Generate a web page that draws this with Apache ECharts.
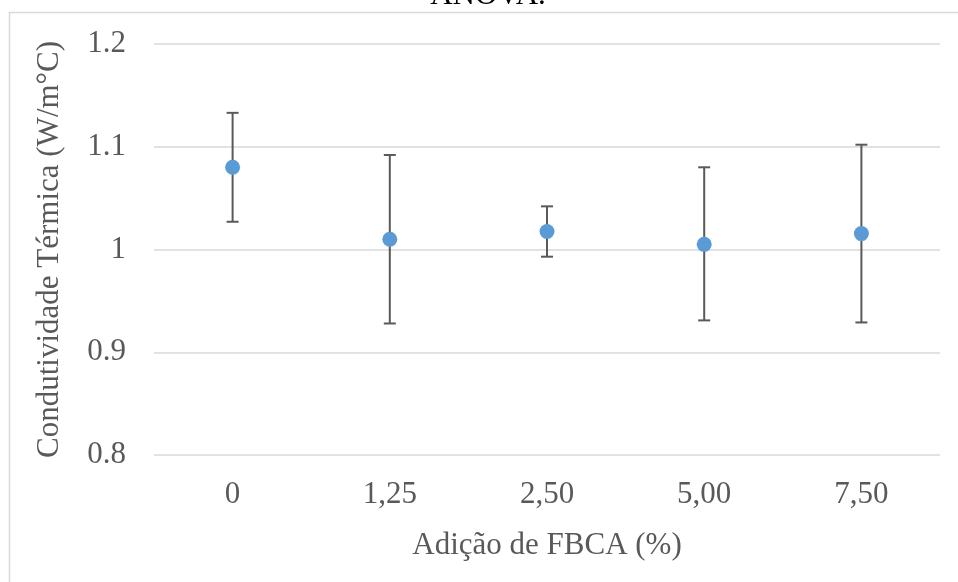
<!DOCTYPE html>
<html>
<head>
<meta charset="utf-8">
<script src="https://cdn.jsdelivr.net/npm/echarts@6/dist/echarts.min.js"></script>
<style>
html,body{margin:0;padding:0;background:#fff;}
#chart{width:958px;height:582px;}
</style>
</head>
<body>
<div id="chart"></div>
<script>
var categories = ['0', '1,25', '2,50', '5,00', '7,50'];
var means = [1.080, 1.010, 1.0175, 1.005, 1.0155];
var upper = [1.133, 1.092, 1.042, 1.080, 1.102];
var lower = [1.027, 0.928, 0.993, 0.931, 0.929];
var yTicks = {min: 0.8, max: 1.2, interval: 0.1};

var FONT = "'Liberation Serif', 'Times New Roman', serif";
var chart = echarts.init(document.getElementById('chart'), null, {renderer: 'canvas'});

var errData = categories.map(function (c, i) { return [i, lower[i], upper[i]]; });

chart.setOption({
  animation: false,
  backgroundColor: '#ffffff',
  graphic: [
    {
      type: 'rect',
      shape: {x: 9.5, y: 12.5, width: 1200, height: 1200},
      style: {fill: 'none', stroke: '#d9d9d9', lineWidth: 1.5},
      silent: true, z: -10
    },
    {
      type: 'text',
      x: 488, y: 11,
      style: {text: 'ANOVA.', font: '31px ' + FONT, fill: '#000000', textAlign: 'center', textVerticalAlign: 'bottom'},
      silent: true
    }
  ],
  grid: {left: 154, right: 18, top: 44, bottom: 127, containLabel: false},
  xAxis: {
    type: 'category',
    data: categories,
    boundaryGap: true,
    axisLine: {show: false},
    axisTick: {show: false},
    axisLabel: {color: '#595959', fontFamily: FONT, fontSize: 31, margin: 24},
    name: 'Adição de FBCA (%)',
    nameLocation: 'middle',
    nameGap: 75,
    nameTextStyle: {color: '#595959', fontFamily: FONT, fontSize: 31}
  },
  yAxis: {
    type: 'value',
    min: yTicks.min, max: yTicks.max, interval: yTicks.interval,
    axisLine: {show: false},
    axisTick: {show: false},
    splitLine: {show: true, lineStyle: {color: '#d9d9d9', width: 1.5}},
    axisLabel: {color: '#595959', fontFamily: FONT, fontSize: 31, margin: 28},
    name: 'Condutividade Térmica (W/m°C)',
    nameLocation: 'middle',
    nameGap: 89,
    nameTextStyle: {color: '#595959', fontFamily: FONT, fontSize: 31}
  },
  series: [
    {
      type: 'custom',
      data: errData,
      z: 1,
      renderItem: function (params, api) {
        var x = api.value(0);
        var lo = api.coord([x, api.value(1)]);
        var hi = api.coord([x, api.value(2)]);
        var hw = 6;
        var st = {stroke: '#595959', lineWidth: 2, fill: 'none'};
        return {
          type: 'group',
          children: [
            {type: 'line', shape: {x1: hi[0], y1: hi[1], x2: lo[0], y2: lo[1]}, style: st},
            {type: 'line', shape: {x1: hi[0] - hw, y1: hi[1], x2: hi[0] + hw, y2: hi[1]}, style: st},
            {type: 'line', shape: {x1: lo[0] - hw, y1: lo[1], x2: lo[0] + hw, y2: lo[1]}, style: st}
          ]
        };
      }
    },
    {
      type: 'scatter',
      data: means,
      symbol: 'circle',
      symbolSize: 15,
      z: 3,
      itemStyle: {color: '#5b9bd5', opacity: 1}
    }
  ]
});
</script>
</body>
</html>
